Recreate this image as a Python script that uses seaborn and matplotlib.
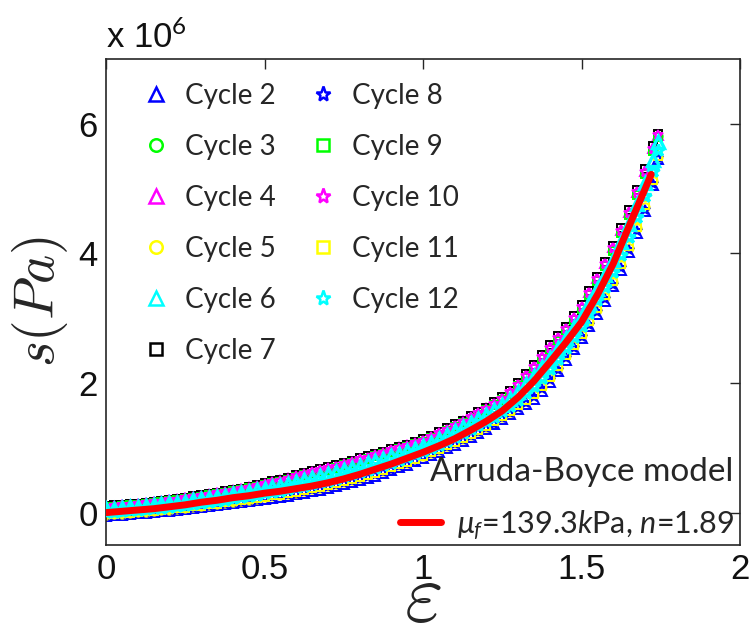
import matplotlib
matplotlib.use("Agg")
import matplotlib.pyplot as plt
import seaborn as sns
import numpy as np
import pandas as pd
from matplotlib.lines import Line2D

sns.set_theme(style="white")
plt.rcParams['font.family'] = ['Liberation Sans', 'DejaVu Sans']
plt.rcParams['mathtext.fontset'] = 'custom'
plt.rcParams['mathtext.rm'] = 'Lato'
plt.rcParams['mathtext.it'] = 'Lato:italic'

# ---- data (stress in units of 1e6 Pa) ----
strain = [0.000, 0.025, 0.050, 0.075, 0.100, 0.125, 0.150, 0.175, 0.200, 0.225,
          0.250, 0.275, 0.300, 0.325, 0.350, 0.375, 0.400, 0.425, 0.450, 0.475,
          0.500, 0.525, 0.550, 0.575, 0.600, 0.625, 0.650, 0.675, 0.700, 0.725,
          0.750, 0.775, 0.800, 0.825, 0.850, 0.875, 0.900, 0.925, 0.950, 0.975,
          1.000, 1.025, 1.050, 1.075, 1.100, 1.125, 1.150, 1.175, 1.200, 1.225,
          1.250, 1.275, 1.300, 1.325, 1.350, 1.375, 1.400, 1.425, 1.450, 1.475,
          1.500, 1.525, 1.550, 1.575, 1.600, 1.625, 1.650, 1.675, 1.700, 1.725,
          1.740]
upper_edge = [0.10, 0.11, 0.12, 0.13, 0.14, 0.15, 0.17, 0.18, 0.20, 0.21,
              0.23, 0.25, 0.27, 0.29, 0.31, 0.33, 0.35, 0.37, 0.40, 0.42,
              0.45, 0.48, 0.51, 0.54, 0.58, 0.61, 0.64, 0.67, 0.70, 0.73,
              0.77, 0.80, 0.84, 0.87, 0.91, 0.94, 0.98, 1.02, 1.05, 1.09,
              1.13, 1.18, 1.24, 1.30, 1.36, 1.42, 1.49, 1.55, 1.62, 1.70,
              1.78, 1.88, 2.00, 2.14, 2.28, 2.43, 2.58, 2.72, 2.87, 3.03,
              3.20, 3.42, 3.64, 3.87, 4.12, 4.39, 4.67, 4.98, 5.30, 5.65,
              5.85]
lower_edge = [-0.05, -0.04, -0.03, -0.02, -0.01, 0.00, 0.01, 0.02, 0.03, 0.04,
              0.05, 0.07, 0.08, 0.10, 0.11, 0.13, 0.15, 0.16, 0.18, 0.19,
              0.21, 0.23, 0.24, 0.26, 0.28, 0.30, 0.33, 0.35, 0.38, 0.41,
              0.44, 0.47, 0.50, 0.54, 0.57, 0.61, 0.65, 0.70, 0.74, 0.79,
              0.84, 0.89, 0.94, 1.00, 1.05, 1.11, 1.17, 1.23, 1.29, 1.36,
              1.44, 1.52, 1.60, 1.68, 1.76, 1.88, 2.02, 2.18, 2.36, 2.52,
              2.69, 2.88, 3.07, 3.27, 3.49, 3.75, 4.02, 4.32, 4.65, 5.05,
              5.45]

cycles = ["Cycle 2", "Cycle 3", "Cycle 4", "Cycle 5", "Cycle 6", "Cycle 7",
          "Cycle 8", "Cycle 9", "Cycle 10", "Cycle 11", "Cycle 12"]
# position of each cycle inside the measured band (0 = lower edge, 1 = upper edge)
cycle_position = [0.00, 0.92, 0.96, 0.10, 0.66, 1.00, 0.04, 0.88, 0.94, 0.14, 0.36]
cycle_colors = ["#0000ff", "#00ff00", "#ff00ff", "#ffff00", "#00ffff", "#000000",
                "#0000ff", "#00ff00", "#ff00ff", "#ffff00", "#00ffff"]
cycle_markers = ["^", "o", "^", "o", "^", "s", "*", "s", "*", "s", "*"]

model_strain = [0.00, 0.05, 0.10, 0.15, 0.20, 0.25, 0.30, 0.35, 0.40, 0.45,
                0.50, 0.55, 0.60, 0.65, 0.70, 0.75, 0.80, 0.85, 0.90, 0.95,
                1.00, 1.05, 1.10, 1.15, 1.20, 1.25, 1.30, 1.35, 1.40, 1.45,
                1.50, 1.55, 1.60, 1.65, 1.70, 1.72]
model_stress = [0.00, 0.02, 0.04, 0.06, 0.09, 0.12, 0.16, 0.19, 0.23, 0.26,
                0.30, 0.33, 0.37, 0.41, 0.46, 0.52, 0.59, 0.67, 0.75, 0.84,
                0.93, 1.03, 1.14, 1.27, 1.41, 1.57, 1.78, 2.03, 2.32, 2.62,
                2.94, 3.36, 3.84, 4.42, 4.99, 5.22]
model_label = r"$\mu_f$=139.3$k$Pa, $n$=1.89"

# ---- figure ----
fig = plt.figure(figsize=(7.49, 6.38), dpi=100)
ax = fig.add_axes([106/749, 1-545/638, (740-106)/749, (545-59)/638])

data_ms = {"^": 6.5, "o": 6, "s": 5.5, "*": 7.5}
leg_ms = {"^": 10, "o": 9, "s": 8, "*": 11}
up = np.array(upper_edge)
lo = np.array(lower_edge)
handles = []
for name, pos, col, mk in zip(cycles, cycle_position, cycle_colors, cycle_markers):
    df = pd.DataFrame({"strain": strain, "stress": lo + pos * (up - lo)})
    is_cyan = col == "#00ffff"
    sns.lineplot(data=df, x="strain", y="stress", ax=ax, linestyle="", marker=mk,
                 markersize=data_ms[mk] + (1.5 if is_cyan else 0),
                 markerfacecolor="none", markeredgecolor=col,
                 markeredgewidth=2.4 if is_cyan else 1.4, color=col,
                 sort=False, estimator=None, zorder=3 if is_cyan else 2)
    handles.append(Line2D([], [], linestyle="", marker=mk, markersize=leg_ms[mk],
                          markerfacecolor="none", markeredgecolor=col,
                          markeredgewidth=1.8, label=name))

mdf = pd.DataFrame({"strain": model_strain, "stress": model_stress})
sns.lineplot(data=mdf, x="strain", y="stress", ax=ax, color="#ff0000", lw=5,
             sort=False, estimator=None, zorder=4)

ax.set_xlim(0, 2)
ax.set_ylim(-0.5, 7)
ax.set_xticks([0, 0.5, 1, 1.5, 2])
ax.set_xticklabels(["0", "0.5", "1", "1.5", "2"])
ax.set_yticks([0, 2, 4, 6])
ax.set_yticklabels(["0", "2", "4", "6"])
ax.tick_params(direction="in", length=7, width=1, colors="#262626",
               labelsize=25, top=True, right=True, labelcolor="#111111", pad=6)
for sp in ax.spines.values():
    sp.set_color("#262626")
    sp.set_linewidth(1.2)

ax.set_xlabel(r"$\varepsilon$", math_fontfamily="cm", fontsize=60, labelpad=-19)
ax.set_ylabel(r"$s(Pa)$", math_fontfamily="cm", fontsize=40, labelpad=6)
fig.text(106/749, 1-48/638, "x 10$^6$", fontsize=25, ha="left", va="baseline",
         color="#111111")

leg1 = ax.legend(handles=handles, ncol=2, loc="upper left", frameon=False,
                 prop={"family": "Lato", "size": 20}, labelspacing=0.9,
                 handlelength=1.4, handletextpad=0.35, columnspacing=1.0,
                 borderaxespad=0.2, bbox_to_anchor=(0.022, 0.985))
ax.add_artist(leg1)

red_handle = Line2D([], [], color="#ff0000", lw=5, label=model_label)
leg2 = ax.legend(handles=[red_handle], loc="lower right", frameon=False,
                 title="Arruda-Boyce model", alignment="right",
                 prop={"family": "Lato", "size": 22},
                 title_fontproperties={"family": "Lato", "size": 24},
                 handlelength=1.35, handletextpad=0.5, borderaxespad=0.0,
                 labelspacing=0.7, borderpad=0.1,
                 bbox_to_anchor=(0.995, 0.0))

fig.savefig("out.png", dpi=100)
